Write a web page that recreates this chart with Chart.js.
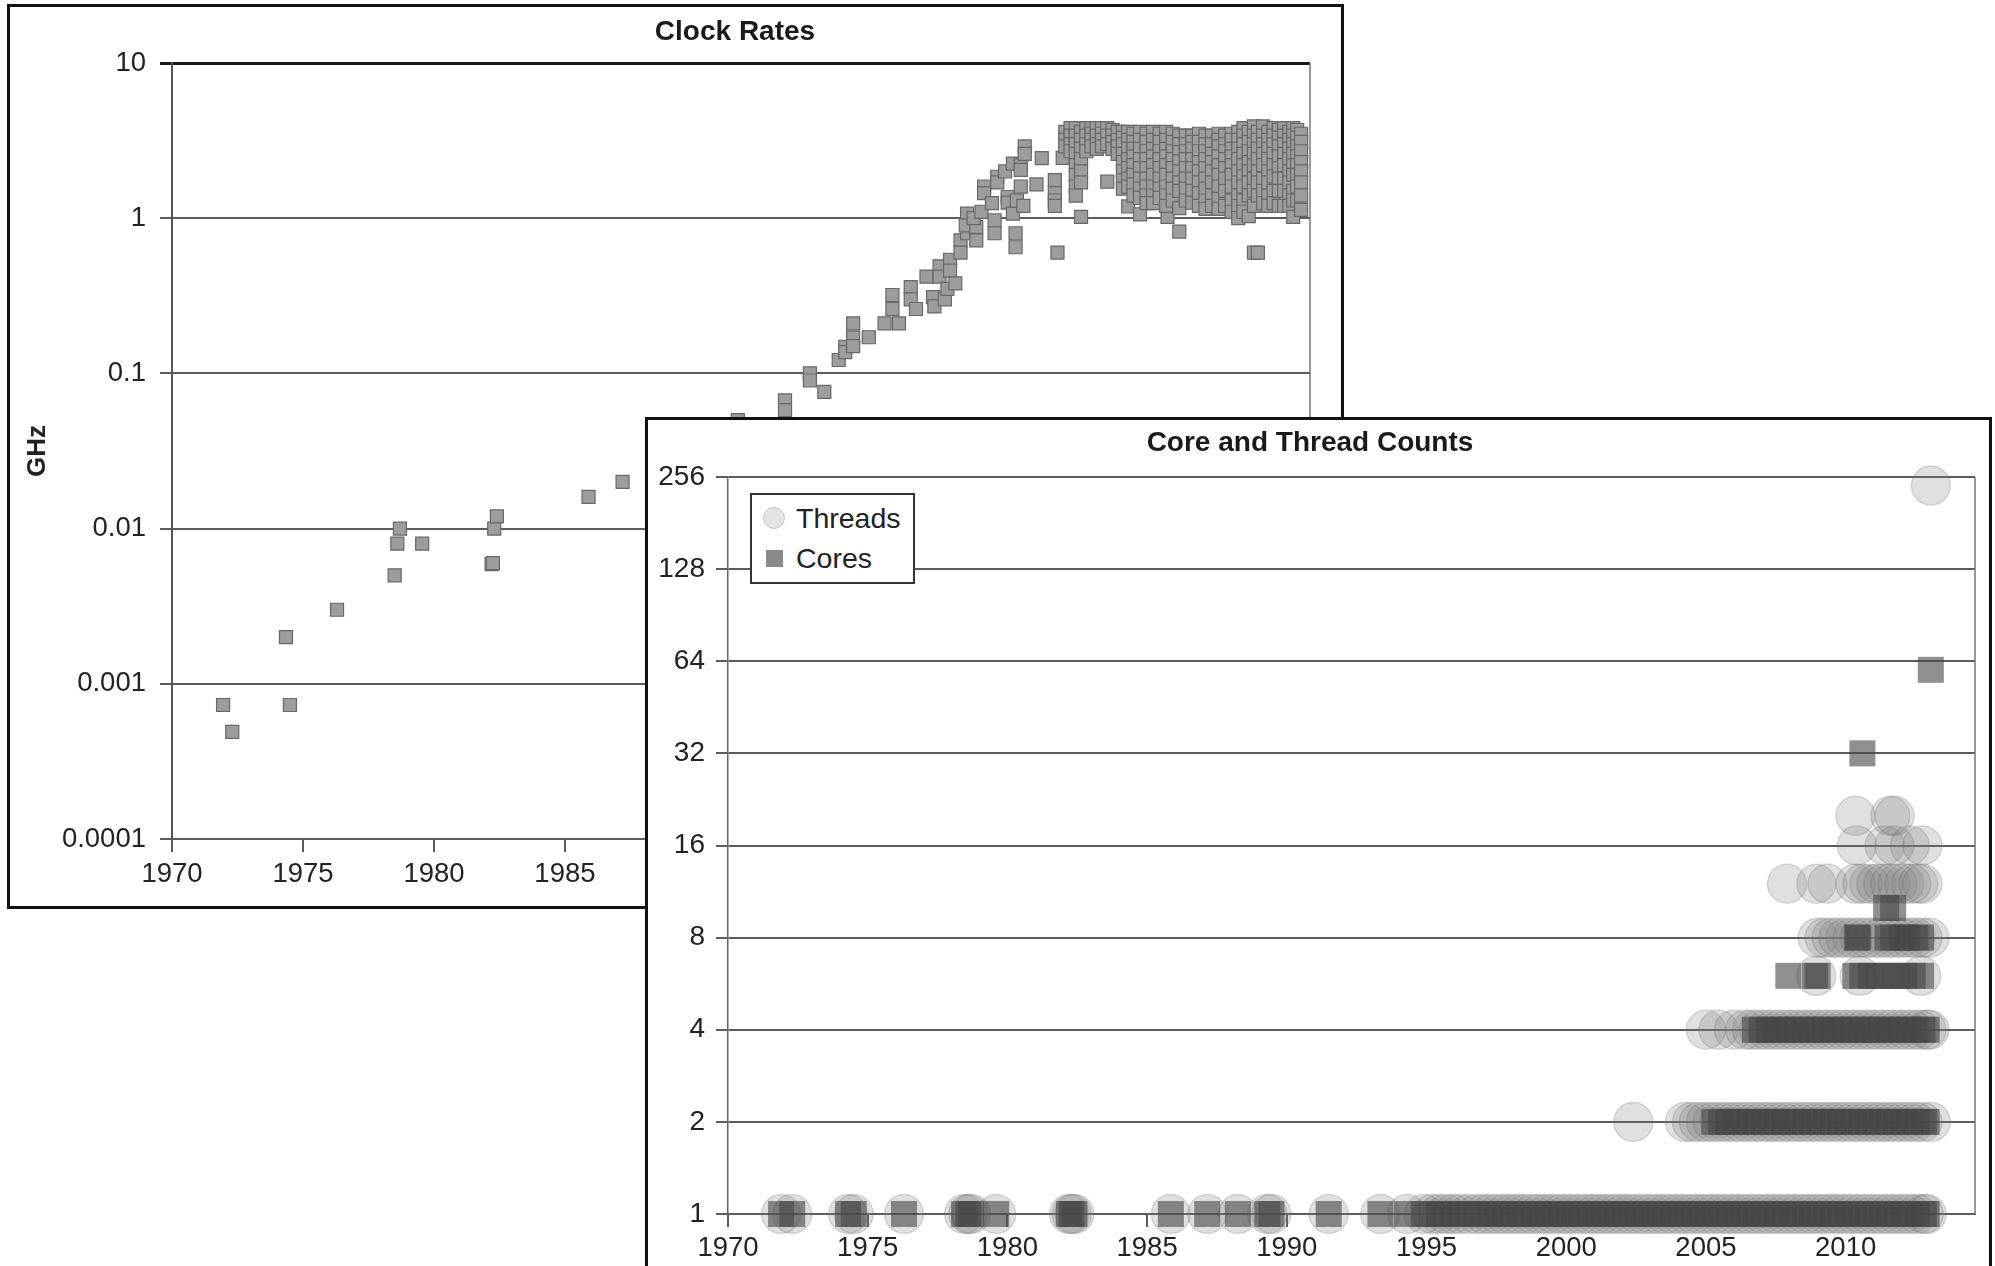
<!DOCTYPE html>
<html>
<head>
<meta charset="utf-8">
<script src="https://cdn.jsdelivr.net/npm/chart.js@4.4.0/dist/chart.umd.min.js"></script>
<style>
html,body{margin:0;padding:0;background:#fff;width:1995px;height:1266px;overflow:hidden;font-family:"Liberation Sans",Arial,sans-serif;}
.panel{position:absolute;box-sizing:border-box;border:3px solid #111;background:#fff;}
#p1{left:7px;top:4px;width:1337px;height:905px;z-index:1;}
#p2{left:645px;top:417px;width:1347px;height:900px;z-index:2;}
.panel canvas{position:absolute;left:0;top:0;}
.title{position:absolute;font-weight:bold;font-size:28px;line-height:1;color:#1a1a1a;white-space:nowrap;transform:translate(-50%,-50%);z-index:3;}
#legend{position:absolute;left:750px;top:493px;width:165px;height:91px;box-sizing:border-box;border:2px solid #333;background:#fff;z-index:3;}
#legend .txt{position:absolute;left:44px;font-size:28.5px;line-height:1;color:#222;white-space:nowrap;}
#legend .mk{position:absolute;box-sizing:border-box;}
</style>
</head>
<body>
<div id="p1" class="panel"><canvas id="c1" width="1331" height="899"></canvas></div>
<div class="title" style="left:735px;top:31px;">Clock Rates</div>
<div id="p2" class="panel"><canvas id="c2" width="1341" height="846"></canvas></div>
<div class="title" style="left:1310px;top:442px;z-index:4;">Core and Thread Counts</div>
<div id="legend">
  <span class="mk" style="left:11px;top:12px;width:22px;height:22px;border-radius:50%;background:#e4e4e4;border:1px solid #c6c6c6;"></span>
  <span class="txt" style="top:8.5px;">Threads</span>
  <span class="mk" style="left:13.5px;top:54.5px;width:17px;height:17px;background:#8a8a8a;"></span>
  <span class="txt" style="top:48.5px;">Cores</span>
</div>
<script>
// ---------------- DATA ----------------
// Clock Rates: individual early points [year, GHz]
const clockEarly = [
  [1971.95,0.00073],[1972.3,0.00049],[1974.35,0.002],[1974.5,0.00073],[1976.3,0.003],
  [1978.5,0.005],[1978.6,0.008],[1978.7,0.01],[1979.55,0.008],[1982.2,0.0059],[1982.25,0.006],
  [1982.3,0.01],[1982.4,0.012],[1985.9,0.016],[1987.2,0.02],[1991.6,0.05],
  [1993.4,0.067],[1993.4,0.058],[1994.35,0.1],[1994.35,0.09],[1994.9,0.076],
  [1995.45,0.122],[1995.7,0.148],[1995.7,0.137],[1996.0,0.21],[1996.0,0.17],[1996.0,0.15],
  [1996.6,0.171],[1997.2,0.21],[1997.5,0.32],[1997.5,0.26],[1997.75,0.21],[1998.2,0.36],
  [1998.2,0.3],[1998.4,0.26],[1998.8,0.42],[1999.05,0.31],[1999.1,0.27],[1999.3,0.49],
  [1999.3,0.42],[1999.5,0.3],[1999.6,0.35],[1999.7,0.54],[1999.7,0.46],[1999.9,0.38],
  [2000.1,0.72],[2000.1,0.6],[2000.35,1.07],[2000.35,0.8],[2000.3,0.9],[2000.7,0.88],
  [2000.7,0.72],[2000.6,1.0],[2000.9,1.1],[2001.0,1.6],[2001.0,1.45],[2001.3,1.25],
  [2001.4,0.97],[2001.4,0.8],[2001.5,1.85],[2001.5,1.7],[2001.9,1.37],[2001.9,1.26],
  [2001.8,2.0],[2002.1,1.07],[2002.1,2.25],[2002.2,0.8],[2002.2,0.65],[2002.25,1.3],
  [2002.4,2.2],[2002.4,2.05],[2002.4,1.6],[2002.5,1.2],[2002.55,2.9],[2002.55,2.6],
  [2003.0,1.65],[2003.2,2.44],[2003.7,1.76],[2003.7,1.45],[2003.7,1.3],[2003.7,1.2],
  [2003.8,0.6],[2004.0,2.45],[2004.7,1.02],[2005.7,1.72],[2006.5,1.19],[2008.0,1.02]
];
// Clock Rates: dense cluster, one column of GHz values per year
const clusterYears = [2004.1,2004.3,2004.5,2004.7,2004.9,2005.1,2005.3,2005.5,2005.7,2005.9,2006.1,
  2006.3,2006.5,2006.7,2006.95,2007.2,2007.45,2007.7,2007.95,2008.2,2008.45,2008.7,2008.95,
  2009.2,2009.45,2009.7,2009.95,2010.2,2010.45,2010.7,2010.9,2011.1,2011.3,2011.45,2011.65,
  2011.85,2012.05,2012.25,2012.45,2012.65,2012.8,2012.95,2013.1];
const clusterGHz = [
  [3.6,3.2,2.9],[3.8,3.4,3.0,2.7],[3.8,3.4,3.0,2.6,2.2,1.9,1.6,1.4],[3.6,3.2,2.8,2.4,2.0,1.7],
  [3.8,3.4,3.0,2.7],[3.8,3.5,3.2,2.9],[3.8,3.4,3.0,2.8],[3.8,3.5,3.2,2.9],[3.8,3.4,3.0],
  [3.7,3.4,3.1,2.8],[3.6,3.2,2.9,2.6],
  [3.6,3.3,3.0,2.6,2.3,2.0,1.75,1.55],[3.6,3.2,2.8,2.4,2.1,1.8,1.6],[3.5,3.1,2.8,2.5,2.2,1.9,1.65,1.4],
  [3.6,3.2,2.8,2.4,2.1,1.8,1.55,1.35,1.06],[3.5,3.1,2.7,2.4,2.1,1.8,1.6,1.4,1.25],
  [3.6,3.2,2.8,2.5,2.2,1.9,1.6,1.4,1.25],[3.5,3.1,2.7,2.4,2.1,1.8,1.55,1.35],
  [3.6,3.2,2.8,2.5,2.2,1.9,1.6,1.4,1.2],[3.5,3.1,2.7,2.4,2.1,1.8,1.55,1.3],
  [3.4,3.0,2.66,2.33,2.0,1.7,1.5,1.16,0.82],[3.4,3.0,2.7,2.4,2.1,1.8,1.55,1.3],
  [3.4,3.1,2.8,2.4,2.1,1.8,1.5,1.26],[3.5,3.1,2.7,2.3,2.0,1.7,1.45,1.2],
  [3.4,3.0,2.7,2.4,2.1,1.8,1.55,1.3,1.15],[3.4,3.0,2.6,2.3,2.0,1.7,1.4,1.2],
  [3.5,3.2,2.9,2.5,2.2,1.9,1.6,1.33,1.15],[3.4,3.0,2.7,2.4,2.1,1.8,1.5,1.2],
  [3.5,3.2,2.8,2.5,2.2,1.9,1.6,1.3,1.1],[3.6,3.2,2.8,2.4,2.0,1.7,1.4,1.2,1.0],
  [3.8,3.4,3.0,2.6,2.2,1.86,1.6,1.3,1.1],[3.6,3.1,2.7,2.3,2.0,1.7,1.4,1.03],
  [3.9,3.4,3.0,2.6,2.2,1.8,1.5,1.2,0.6],[3.6,3.2,2.8,2.4,2.0,1.7,1.4,0.6],
  [3.9,3.4,3.0,2.6,2.2,1.8,1.5,1.25],[3.6,3.2,2.8,2.4,2.0,1.7,1.4,1.2],
  [3.8,3.4,3.0,2.6,2.2,1.86,1.5,1.25],[3.7,3.3,2.9,2.5,2.1,1.8,1.5,1.2],
  [3.8,3.4,3.0,2.6,2.2,1.8,1.5,1.2],[3.6,3.2,2.8,2.4,2.0,1.7,1.4,1.2],
  [3.8,3.4,3.0,2.6,2.2,1.9,1.5,1.3,1.02],[3.7,3.3,2.9,2.5,2.2,1.9,1.6,1.3],
  [3.5,3.1,2.7,2.3,2.0,1.7,1.4,1.13]
];
const clockYTicks = [0.0001, 0.001, 0.01, 0.1, 1, 10];
const yearTicks = [1970, 1975, 1980, 1985, 1990, 1995, 2000, 2005, 2010];

// Core and Thread Counts: years per count value
const singleCoreYears = [1971.9,1972.3,1974.3,1974.5,1976.3,1978.45,1978.6,1978.7,1979.6,1982.2,1982.3,1982.4,
  1985.85,1987.15,1988.25,1989.3,1989.45,1991.5,1993.35,1994.3,1994.9,1995.2,1995.45,1995.7,1995.95,
  1996.2,1996.5,1996.8,1997.05,1997.3,1997.55,1997.8,1998.05,1998.3,1998.55,1998.8,1999.05,1999.3,
  1999.55,1999.8,2000.05,2000.3,2000.55,2000.8,2001.05,2001.3,2001.55,2001.8,2002.05,2002.3,2002.55,
  2002.8,2003.05,2003.3,2003.55,2003.8,2004.05,2004.3,2004.55,2004.8,2005.05,2005.3,2005.55,2005.8,
  2006.05,2006.3,2006.55,2006.8,2007.05,2007.3,2007.55,2007.8,2008.05,2008.3,2008.55,2008.8,2009.05,
  2009.3,2009.55,2009.8,2010.05,2010.3,2010.55,2010.8,2011.05,2011.3,2011.55,2011.8,2012.05,2012.3,
  2012.55,2012.8,2012.9];
const cores2Years = [2005.3,2005.55,2005.8,2006.05,2006.3,2006.55,2006.8,2007.05,2007.3,2007.55,2007.8,
  2008.05,2008.3,2008.55,2008.8,2009.05,2009.3,2009.55,2009.8,2010.05,2010.3,2010.55,2010.8,2011.05,
  2011.3,2011.55,2011.8,2012.05,2012.3,2012.55,2012.8,2012.9];
const cores4Years = [2006.75,2007.0,2007.25,2007.5,2007.75,2008.0,2008.25,2008.5,2008.75,2009.0,2009.25,
  2009.5,2009.75,2010.0,2010.25,2010.5,2010.75,2011.0,2011.25,2011.5,2011.75,2012.0,2012.25,2012.5,
  2012.75,2012.9];
const cores6Years = [2007.95,2008.9,2009.0,2010.35,2010.6,2010.9,2011.2,2011.5,2011.8,2012.1,2012.4,2012.7];
const cores8Years = [2010.4,2010.45,2011.5,2011.7,2012.0,2012.2,2012.5,2012.7];
const cores10Years = [2011.45,2011.7];
const cores32Years = [2010.6];
const cores60Years = [2013.05];

const threads2Years = [2002.4,2004.25,2004.5,2004.75,2005.0,2005.25,2005.5,2005.75,2006.0,2006.25,2006.5,
  2006.75,2007.0,2007.25,2007.5,2007.75,2008.0,2008.25,2008.5,2008.75,2009.0,2009.25,2009.5,2009.75,
  2010.0,2010.25,2010.5,2010.75,2011.0,2011.25,2011.5,2011.75,2012.0,2012.25,2012.5,2012.75,2013.05];
const threads4Years = [2005.0,2005.45,2006.0,2006.4,2006.65,2006.9,2007.15,2007.4,2007.65,2007.9,2008.15,
  2008.4,2008.65,2008.9,2009.15,2009.4,2009.65,2009.9,2010.15,2010.4,2010.65,2010.9,2011.15,2011.4,
  2011.65,2011.9,2012.15,2012.4,2012.65,2012.9,2013.0];
const threads6Years = [2008.95,2010.5,2012.7];
const threads8Years = [2009.0,2009.25,2009.5,2009.75,2010.0,2010.25,2010.5,2010.75,2011.0,2011.25,2011.5,
  2011.75,2012.0,2012.25,2012.5,2012.75,2013.0];
const threads12Years = [2007.9,2008.95,2009.35,2010.35,2010.6,2010.85,2011.1,2011.35,2011.6,2011.85,
  2012.1,2012.35,2012.6,2012.75];
const threads16Years = [2010.4,2011.4,2011.75,2012.3,2012.75];
const threads20Years = [2010.35,2011.6,2011.75];
const threads240Years = [2013.05];
const countYTicks = [1, 2, 4, 8, 16, 32, 64, 128, 256];

// ---------------- BUILD ----------------
const FONT = '"Liberation Sans", Arial, sans-serif';
Chart.defaults.font.family = FONT;

const clockPoints = clockEarly.map(p => ({x: p[0], y: p[1]}));
clusterYears.forEach((yr, i) => clusterGHz[i].forEach(v => clockPoints.push({x: yr, y: v})));

const rows = (years, count) => years.map(y => ({x: y, y: count}));
const corePoints = [].concat(
  rows(singleCoreYears, 1), rows(cores2Years, 2), rows(cores4Years, 4), rows(cores6Years, 6),
  rows(cores8Years, 8), rows(cores10Years, 10), rows(cores32Years, 32), rows(cores60Years, 60));
const threadPoints = [].concat(
  rows(singleCoreYears, 1), rows(threads2Years, 2), rows(threads4Years, 4), rows(threads6Years, 6),
  rows(threads8Years, 8), rows(threads12Years, 12), rows(threads16Years, 16), rows(threads20Years, 20),
  rows(threads240Years, 240));

function rightEdge(color, width) {
  return {
    id: 'rightEdge',
    beforeDatasetsDraw(chart) {
      const {ctx, chartArea: a} = chart;
      ctx.save();
      ctx.strokeStyle = color; ctx.lineWidth = width;
      ctx.beginPath(); ctx.moveTo(a.right, a.top); ctx.lineTo(a.right, a.bottom); ctx.stroke();
      ctx.restore();
    }
  };
}

const tickFont = {size: 27.5, family: FONT};
const GRID = '#5c5c5c';

new Chart(document.getElementById('c1'), {
  type: 'scatter',
  data: {datasets: [{
    label: 'GHz', data: clockPoints, clip: false,
    pointStyle: 'rect', pointRadius: 9.2, pointHoverRadius: 9.2,
    pointBackgroundColor: '#9d9d9d', pointBorderColor: '#686868', pointBorderWidth: 1.2
  }]},
  options: {
    responsive: false, animation: false, devicePixelRatio: 1,
    layout: {autoPadding: false, padding: {left: 0, top: 56, right: 31, bottom: 0}},
    plugins: {legend: {display: false}, title: {display: false}, tooltip: {enabled: false}},
    scales: {
      x: {
        type: 'linear', min: 1970, max: 2013.44,
        afterFit: s => { s.height = 67; },
        afterBuildTicks: s => { s.ticks = yearTicks.map(v => ({value: v})); },
        ticks: {padding: 6, color: '#222', font: tickFont, maxRotation: 0, autoSkip: false, callback: v => String(v)},
        grid: {drawOnChartArea: false, drawTicks: true, tickLength: 13, color: GRID, lineWidth: 2},
        border: {display: true, color: GRID, width: 2}
      },
      y: {
        type: 'logarithmic', min: 0.0001, max: 10,
        afterFit: s => { s.width = 162; },
        afterBuildTicks: s => { s.ticks = clockYTicks.map(v => ({value: v})); },
        ticks: {padding: 14, color: '#222', font: tickFont, autoSkip: false, callback: v => String(v)},
        grid: {
          color: c => (c.tick && c.tick.value === 10) ? '#1a1a1a' : GRID,
          lineWidth: c => (c.tick && c.tick.value === 10) ? 3 : 2,
          tickLength: 12
        },
        border: {display: true, color: '#555', width: 2},
        title: {display: true, text: 'GHz', color: '#222', font: {size: 26, weight: 'bold', family: FONT}, padding: {top: 12, bottom: 0}}
      }
    }
  },
  plugins: [rightEdge('#777', 1.5)]
});

new Chart(document.getElementById('c2'), {
  type: 'scatter',
  data: {datasets: [
    {label: 'Threads', data: threadPoints, clip: false, order: 1,
     pointStyle: 'circle', pointRadius: 19.5, pointHoverRadius: 19.5,
     pointBackgroundColor: 'rgba(125,125,125,0.24)', pointBorderColor: 'rgba(100,100,100,0.22)', pointBorderWidth: 1.5},
    {label: 'Cores', data: corePoints, clip: false, order: 0,
     pointStyle: 'rect', pointRadius: 18.4, pointHoverRadius: 18.4,
     pointBackgroundColor: 'rgba(70,70,70,0.6)', pointBorderWidth: 0}
  ]},
  options: {
    responsive: false, animation: false, devicePixelRatio: 1,
    layout: {autoPadding: false, padding: {left: 0, top: 57, right: 14, bottom: 0}},
    plugins: {legend: {display: false}, title: {display: false}, tooltip: {enabled: false}},
    scales: {
      x: {
        type: 'linear', min: 1970, max: 2014.63,
        afterFit: s => { s.height = 52; },
        afterBuildTicks: s => { s.ticks = yearTicks.map(v => ({value: v})); },
        ticks: {padding: 5, color: '#222', font: tickFont, maxRotation: 0, autoSkip: false, callback: v => String(v)},
        grid: {drawOnChartArea: false, drawTicks: true, tickLength: 13, color: GRID, lineWidth: 2},
        border: {display: true, color: GRID, width: 2}
      },
      y: {
        type: 'logarithmic', min: 1, max: 256,
        afterFit: s => { s.width = 80; },
        afterBuildTicks: s => { s.ticks = countYTicks.map(v => ({value: v})); },
        ticks: {padding: 11, color: '#222', font: {size: 28, family: FONT}, autoSkip: false, callback: v => String(v)},
        grid: {color: GRID, lineWidth: 2, tickLength: 12},
        border: {display: true, color: '#666', width: 1.5}
      }
    }
  },
  plugins: [rightEdge('#777', 1.5)]
});
</script>
</body>
</html>
